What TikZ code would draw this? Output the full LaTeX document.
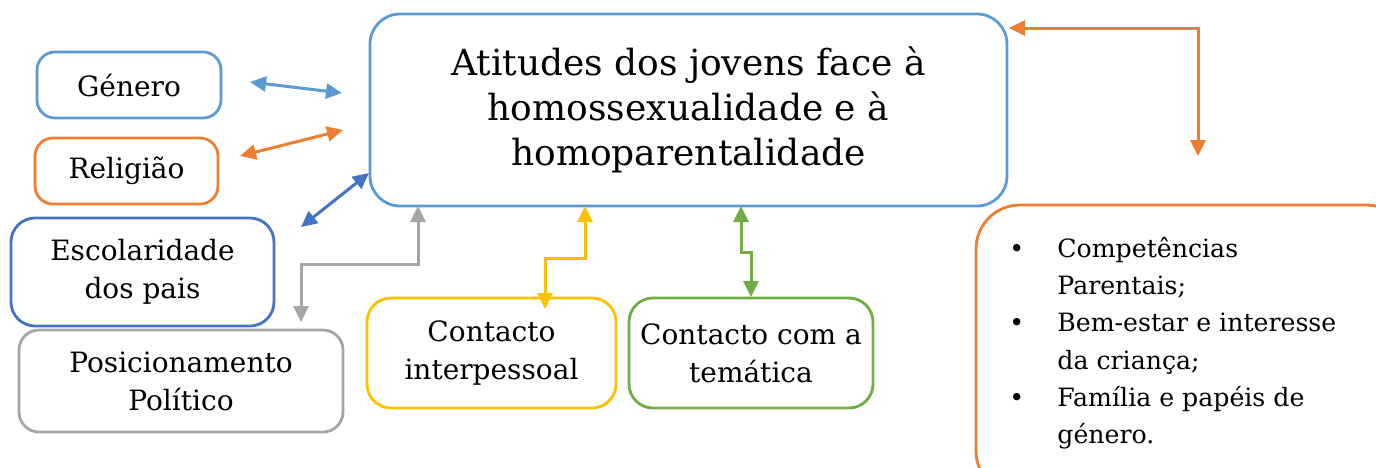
\documentclass[tikz,border=0pt]{standalone}
\usepackage{fontspec}
\setmainfont{DejaVu Serif}
\usetikzlibrary{arrows.meta,positioning}
\definecolor{clrblue}{HTML}{5B9BD5}
\definecolor{clrorange}{HTML}{ED7D31}
\definecolor{clrdark}{HTML}{4472C4}
\definecolor{clrgray}{HTML}{A5A5A5}
\definecolor{clryellow}{HTML}{FFC000}
\definecolor{clrgreen}{HTML}{70AD47}
\tikzset{>={Triangle[length=8pt,width=7.5pt]}}
\tikzset{
  box/.style={draw=#1, line width=1.4pt, rounded corners=9pt, align=center,
    inner sep=0pt, font=\fontsize{14pt}{19pt}\selectfont},
  link/.style={<->, draw=#1, line width=1.5pt},
}

\begin{document}
\begin{tikzpicture}[x=0.5pt,y=-0.5pt]
            \clip (0,0) rectangle (1376,467);

            \node[box=clrblue, rounded corners=15pt, minimum width=318.5pt, minimum height=96pt,
                  font=\fontsize{18pt}{22.5pt}\selectfont] (atitudes) at (688.5,110)
                  {Atitudes dos jovens face à\\ homossexualidade e à\\ homoparentalidade};

            \node[box=clrblue, minimum width=92pt, minimum height=33pt] (genero) at (129,85) {Género};
            \node[box=clrorange, minimum width=91.5pt, minimum height=33pt] (religiao) at (126.5,171) {Religião};
            \node[box=clrdark, rounded corners=12pt, minimum width=131.5pt, minimum height=54pt] (escolaridade) at (142.5,272) {Escolaridade\\ dos pais};
            \node[box=clrgray, rounded corners=10pt, minimum width=162pt, minimum height=51pt] (politico) at (181,381) {Posicionamento\\ Político};
            \node[box=clryellow, rounded corners=12pt, minimum width=124.5pt, minimum height=55pt] (interpessoal) at (491.5,353) {Contacto\\ interpessoal};
            \node[box=clrgreen, rounded corners=12pt, minimum width=122pt, minimum height=55pt] (tematica) at (751,353) {Contacto com a\\ temática};

            \node[box=clrorange, rounded corners=22pt, minimum width=217pt, minimum height=145pt] (parental) at (1193,350) {};
            \node[anchor=north west, align=left, inner sep=0pt, font=\fontsize{12.6pt}{18.6pt}\selectfont] (lista) at (1009,237)
                  {\makebox[24pt][l]{\textbullet}Competências\\
                   \hspace*{24pt}Parentais;\\
                   \makebox[24pt][l]{\textbullet}Bem-estar e interesse\\
                   \hspace*{24pt}da criança;\\
                   \makebox[24pt][l]{\textbullet}Família e papéis de\\
                   \hspace*{24pt}género.};

            \coordinate (gen-a) at (250,82);
            \coordinate (gen-b) at (342,93);
            \coordinate (rel-a) at (240,156);
            \coordinate (rel-b) at (343,130);
            \coordinate (esc-a) at (301,227);
            \coordinate (esc-b) at (369,173);
            \coordinate (pol-a) at (418,206);
            \coordinate (pol-b) at (301,322);
            \coordinate (int-a) at (585,206);
            \coordinate (int-b) at (545,309);
            \coordinate (tem-a) at (741,206);
            \coordinate (tem-b) at (751,297);
            \coordinate (par-a) at (1009,28);
            \coordinate (par-b) at (1198,156);

            \draw[link=clrblue] (gen-a) -- (gen-b);
            \draw[link=clrorange] (rel-a) -- (rel-b);
            \draw[link=clrdark] (esc-a) -- (esc-b);
            \draw[link=clrgray] (pol-a) -- (418,264) -| (pol-b);
            \draw[link=clryellow] (int-a) -- (585,258) -| (int-b);
            \draw[link=clrgreen] (tem-a) -- (741,252) -| (tem-b);
            \draw[link=clrorange] (par-a) -| (par-b);
        \end{tikzpicture}
\end{document}
